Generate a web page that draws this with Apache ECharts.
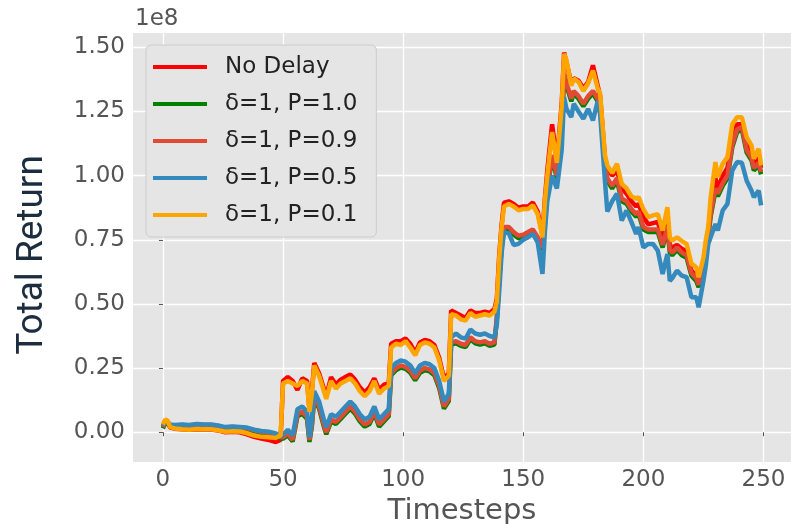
<!DOCTYPE html>
<html>
<head>
<meta charset="utf-8">
<script src="https://cdn.jsdelivr.net/npm/echarts@6/dist/echarts.min.js"></script>
<style>
html, body { margin: 0; padding: 0; background: #fff; }
#chart { width: 791px; height: 524px; }
</style>
</head>
<body>
<div id="chart"></div>
<script>
// timesteps (values are in units of 1e8)
const steps = [0,1,2,3,5,8,11,14,17,20,23,26,29,32,35,38,41,44,47,49,
  50,52,54,56,58,60,61,62,63,65,67,68,70,72,74,76,78,80,82,84,86,88,90,92,94,
  95,97,99,101,103,105,107,109,111,113,115,117,119,
  120,122,124,126,128,130,132,134,136,138,
  139,140,141,142,144,146,148,150,152,154,
  156,158,159,160,162,164,166,167,168,170,
  171,173,175,177,179,181,182,184,185,187,
  189,191,193,195,197,198,200,202,204,206,
  208,210,211,212,214,216,218,220,222,223,
  225,226,227,228,230,231,233,235,237,239,
  241,243,245,246,248,249];

const noDelay = [0.02,0.045,0.04,0.018,0.014,0.012,0.01,0.012,0.011,0.011,0.007,0.0,0.002,0.0,-0.008,-0.018,-0.025,-0.03,-0.038,-0.03,
  0.2,0.215,0.2,0.165,0.21,0.2,0.09,0.16,0.27,0.23,0.17,0.14,0.215,0.185,0.205,0.215,0.225,0.205,0.175,0.155,0.175,0.21,0.165,0.185,0.19,
  0.345,0.355,0.355,0.365,0.345,0.31,0.35,0.36,0.355,0.34,0.29,0.21,0.23,
  0.475,0.465,0.455,0.445,0.475,0.465,0.465,0.47,0.465,0.48,
  0.52,0.69,0.81,0.895,0.9,0.89,0.875,0.88,0.88,0.895,
  0.86,0.77,0.91,1.02,1.2,1.06,1.28,1.48,1.44,1.36,
  1.38,1.37,1.34,1.365,1.43,1.35,1.31,1.07,1.03,1.0,
  1.02,0.95,0.93,0.9,0.88,0.89,0.84,0.81,0.815,0.82,
  0.755,0.84,0.73,0.72,0.73,0.715,0.705,0.63,0.61,0.58,
  0.66,0.73,0.78,0.87,0.99,0.95,1.0,1.03,1.15,1.2,
  1.2,1.12,1.09,1.04,1.07,1.03];

const p10 = [0.015,0.035,0.033,0.024,0.022,0.024,0.022,0.026,0.024,0.024,0.02,0.014,0.016,0.014,0.011,0.004,-0.002,-0.006,-0.014,-0.024,
  -0.025,-0.012,-0.036,0.062,0.072,0.052,-0.038,0.022,0.132,0.092,0.022,-0.008,0.042,0.032,0.052,0.072,0.092,0.072,0.042,0.022,0.032,0.072,0.022,0.042,0.062,
  0.222,0.242,0.252,0.247,0.232,0.202,0.232,0.242,0.237,0.222,0.172,0.092,0.122,
  0.342,0.347,0.337,0.332,0.362,0.347,0.342,0.347,0.337,0.342,
  0.44,0.59,0.72,0.79,0.79,0.77,0.756,0.76,0.77,0.78,
  0.75,0.71,0.81,0.94,1.07,0.99,1.17,1.39,1.35,1.29,
  1.32,1.3,1.27,1.3,1.32,1.29,1.27,1.03,0.98,0.95,
  0.98,0.9,0.89,0.86,0.84,0.85,0.79,0.78,0.78,0.78,
  0.72,0.79,0.7,0.69,0.71,0.69,0.68,0.61,0.59,0.565,
  0.64,0.71,0.76,0.84,0.94,0.92,0.96,0.99,1.11,1.17,
  1.18,1.09,1.06,1.02,1.04,1.005];

const p09 = [0.02,0.04,0.038,0.028,0.026,0.028,0.026,0.03,0.028,0.028,0.024,0.018,0.02,0.018,0.015,0.008,0.002,-0.002,-0.01,-0.02,
  -0.02,-0.005,-0.03,0.07,0.08,0.06,-0.03,0.03,0.14,0.1,0.03,0.0,0.05,0.04,0.06,0.08,0.1,0.08,0.05,0.03,0.04,0.08,0.03,0.05,0.07,
  0.23,0.25,0.26,0.255,0.24,0.21,0.24,0.25,0.245,0.23,0.18,0.1,0.13,
  0.35,0.355,0.345,0.34,0.37,0.355,0.35,0.355,0.345,0.35,
  0.45,0.6,0.73,0.8,0.8,0.78,0.766,0.77,0.78,0.79,
  0.76,0.72,0.82,0.95,1.08,1.0,1.18,1.4,1.36,1.3,
  1.33,1.31,1.28,1.31,1.33,1.3,1.28,1.04,0.99,0.96,
  0.99,0.91,0.9,0.87,0.85,0.86,0.8,0.79,0.79,0.79,
  0.73,0.8,0.71,0.7,0.72,0.7,0.69,0.62,0.6,0.575,
  0.65,0.72,0.77,0.85,0.95,0.93,0.97,1.0,1.12,1.18,
  1.19,1.1,1.07,1.03,1.05,1.015];

const p05 = [0.025,0.045,0.04,0.03,0.028,0.03,0.028,0.032,0.03,0.03,0.026,0.02,0.022,0.02,0.018,0.01,0.005,0.002,-0.005,-0.015,
  -0.01,0.01,-0.013,0.09,0.1,0.08,-0.02,0.05,0.16,0.12,0.05,0.02,0.07,0.06,0.08,0.1,0.12,0.1,0.07,0.05,0.06,0.1,0.05,0.07,0.09,
  0.25,0.27,0.28,0.275,0.26,0.23,0.26,0.27,0.265,0.25,0.2,0.12,0.15,
  0.37,0.385,0.37,0.365,0.4,0.385,0.38,0.385,0.375,0.37,
  0.42,0.55,0.7,0.78,0.775,0.73,0.734,0.75,0.76,0.773,
  0.74,0.617,0.78,0.9,1.0,0.95,1.1,1.306,1.26,1.228,
  1.28,1.25,1.222,1.26,1.215,1.29,1.24,0.98,0.86,0.9,
  0.93,0.825,0.864,0.82,0.773,0.8,0.72,0.734,0.734,0.708,
  0.617,0.695,0.59,0.6,0.63,0.61,0.604,0.526,0.526,0.487,
  0.59,0.65,0.734,0.76,0.812,0.786,0.864,0.89,1.02,1.053,
  1.05,0.98,0.942,0.916,0.942,0.884];

const p01 = [0.03,0.05,0.045,0.02,0.015,0.012,0.01,0.013,0.012,0.012,0.008,0.002,0.004,0.003,-0.004,-0.013,-0.018,-0.02,-0.022,-0.012,
  0.19,0.2,0.19,0.18,0.2,0.19,0.08,0.15,0.26,0.22,0.16,0.13,0.2,0.17,0.19,0.2,0.21,0.19,0.16,0.14,0.16,0.2,0.15,0.17,0.18,
  0.33,0.345,0.34,0.355,0.33,0.3,0.34,0.35,0.345,0.33,0.28,0.2,0.22,
  0.46,0.455,0.44,0.435,0.465,0.45,0.455,0.46,0.455,0.47,
  0.51,0.68,0.8,0.88,0.89,0.88,0.865,0.87,0.87,0.884,
  0.85,0.76,0.9,1.0,1.17,1.05,1.27,1.475,1.45,1.35,
  1.378,1.365,1.33,1.36,1.41,1.34,1.32,1.08,1.04,1.01,
  1.046,0.968,0.95,0.92,0.91,0.916,0.87,0.838,0.845,0.85,
  0.786,0.877,0.76,0.747,0.76,0.745,0.734,0.657,0.643,0.604,
  0.68,0.75,0.8,0.916,1.053,0.994,1.046,1.072,1.2,1.228,
  1.228,1.15,1.118,1.066,1.105,1.04];

const names = ['No Delay', 'δ=1, P=1.0', 'δ=1, P=0.9', 'δ=1, P=0.5', 'δ=1, P=0.1'];
const colors = ['#ff0000', '#008000', '#e24a33', '#348abd', '#ffa500'];
const xTicks = [0, 50, 100, 150, 200, 250];
const yTicks = [0, 0.25, 0.5, 0.75, 1.0, 1.25, 1.5];

const allData = [noDelay, p10, p09, p05, p01];

const myChart = echarts.init(document.getElementById('chart'));

const option = {
  animation: false,
  backgroundColor: '#ffffff',
  textStyle: { fontFamily: 'DejaVu Sans' },
  grid: {
    left: 133, right: 0, top: 33, bottom: 62,
    outerBoundsMode: 'none',
    containLabel: false,
    show: true, backgroundColor: '#e5e5e5', borderWidth: 0
  },
  legend: {
    orient: 'vertical',
    left: 146, top: 45,
    icon: 'rect',
    itemWidth: 54, itemHeight: 4,
    itemGap: 13,
    padding: [10, 19, 10, 7],
    backgroundColor: '#e5e5e5',
    borderColor: '#cccccc', borderWidth: 1, borderRadius: 5,
    textStyle: { fontSize: 23, color: '#222222', lineHeight: 24, padding: [0, 0, 0, 13] },
    data: names
  },
  graphic: [{
    type: 'text', left: 135, top: 8,
    style: { text: '1e8', fontSize: 23, fill: '#555555', fontFamily: 'DejaVu Sans' }
  }, {
    type: 'text', x: 33, y: 255, rotation: Math.PI / 2,
    style: {
      text: 'Total Return', fontSize: 37, fill: '#1c2d40', fontFamily: 'Roboto',
      align: 'center', verticalAlign: 'middle'
    }
  }],
  xAxis: {
    type: 'value',
    min: -12.45, max: 261.45,
    name: 'Timesteps', nameLocation: 'middle', nameGap: 32,
    nameTextStyle: { fontSize: 29, color: '#555555' },
    axisLine: { show: false },
    axisTick: { show: true, customValues: xTicks, length: 4, lineStyle: { color: '#555555' } },
    axisLabel: { customValues: xTicks, fontSize: 23, color: '#555555', margin: 7 },
    splitLine: { show: true, lineStyle: { color: '#ffffff', width: 1.3 } }
  },
  yAxis: {
    type: 'value',
    min: -0.116, max: 1.556,
    axisLine: { show: false },
    axisTick: { show: true, customValues: yTicks, length: 4, lineStyle: { color: '#555555' } },
    axisLabel: {
      customValues: yTicks, fontSize: 23, color: '#555555', margin: 8,
      formatter: (v) => v.toFixed(2)
    },
    splitLine: { show: true, lineStyle: { color: '#ffffff', width: 1.3 } }
  },
  series: allData.map((arr, i) => ({
    name: names[i],
    type: 'line',
    symbol: 'none',
    color: colors[i],
    lineStyle: { width: 4.5, color: colors[i] },
    z: 2 + i,
    data: steps.map((t, j) => [t, arr[j]])
  }))
};

myChart.setOption(option);
window.addEventListener('resize', () => {
  myChart.resize();
});
</script>
</body>
</html>
